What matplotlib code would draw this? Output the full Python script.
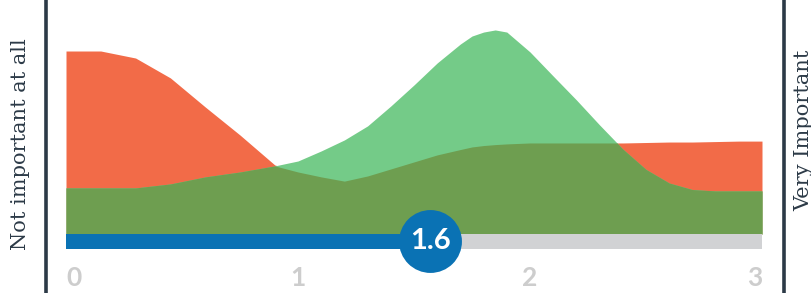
import numpy as np
import matplotlib.pyplot as plt

# data (x on a 0-3 scale, heights 0-100)
x = [0, 0.15, 0.3, 0.45, 0.6, 0.75, 0.9, 1.0, 1.1, 1.2, 1.3, 1.4, 1.5, 1.6, 1.7,
     1.75, 1.8, 1.85, 1.9, 2.0, 2.1, 2.2, 2.3, 2.375, 2.4, 2.5, 2.6, 2.7, 2.8, 2.9, 3.0]
not_important = [78.2, 78.2, 75.2, 66.7, 54.3, 42.3, 29.5, 26.5, 24.4, 22.6, 24.8, 27.8,
                 30.8, 33.8, 36.1, 37.2, 37.8, 38.2, 38.5, 38.9, 38.9, 38.9, 38.9, 38.9,
                 38.9, 39.1, 39.3, 39.3, 39.5, 39.7, 39.7]
very_important = [19.7, 19.7, 19.7, 21.4, 24.4, 26.5, 29.1, 31.2, 35.5, 40.2, 46.2, 54.7,
                  63.7, 73.1, 81.2, 84.6, 86.3, 87.2, 86.3, 77.8, 67.5, 57.3, 46.6, 38.9,
                  36.3, 27.6, 21.8, 19.0, 18.4, 18.4, 18.4]
score = 1.6
tick_vals = [0, 1, 2, 3]
tick_labels = ["0", "1", "2", "3"]

RED = "#F26B48"
GREEN = "#74CB88"
OLIVE = "#6E9E50"
BLUE = "#0A72B4"
GREY = "#D1D2D4"
DARK = "#2C3A47"

W, H = 812, 293
fig = plt.figure(figsize=(W / 100, H / 100), dpi=100)

ax = fig.add_axes([66 / W, (H - 249) / H, 696 / W, 249 / H])
x = np.array(x)
red = np.array(not_important)
green = np.array(very_important)

ax.fill_between(x, 0, red, color=RED, lw=0)
ax.fill_between(x, 0, green, color=GREEN, lw=0)
ax.fill_between(x, 0, np.minimum(red, green), color=OLIVE, lw=0)

bar_h = 15 / 2.34
ax.barh(-bar_h / 2, 3, height=bar_h, left=0, color=GREY, lw=0)
ax.barh(-bar_h / 2, score, height=bar_h, left=0, color=BLUE, lw=0)

ax.scatter([score - 0.03], [-bar_h / 2 + 0.4], s=2050, color=BLUE, zorder=5, clip_on=False, lw=0)
ax.text(score - 0.03, -bar_h / 2 + 0.4, str(score), color="white", fontsize=21,
        fontweight="bold", family="Lato", ha="center", va="center", zorder=6)

ax.set_xlim(0, 3)
ax.set_ylim(-bar_h, 100)
ax.set_xticks(tick_vals)
ax.set_xticklabels(tick_labels, fontsize=19, fontweight="bold", family="Lato", color="#CDCDCD")
labs = ax.get_xticklabels()
labs[0].set_ha("left")
labs[-1].set_ha("right")
ax.tick_params(axis="x", length=0, pad=12)
ax.set_yticks([])
for s in ax.spines.values():
    s.set_visible(False)

# the two end markers
fig.add_artist(plt.Line2D([46.5 / W, 46.5 / W], [0, 1], color=DARK, lw=2.6))
fig.add_artist(plt.Line2D([784 / W, 784 / W], [0, 1], color=DARK, lw=2.6))
fig.text(21 / W, 1 - 144 / H, "Not important at all", rotation=90, ha="center", va="center",
         family="DejaVu Serif", fontsize=15, color=DARK)
fig.text(804 / W, 1 - 130 / H, "Very Important", rotation=90, ha="center", va="center",
         family="DejaVu Serif", fontsize=15, color=DARK)

fig.savefig("out.png", dpi=100)
